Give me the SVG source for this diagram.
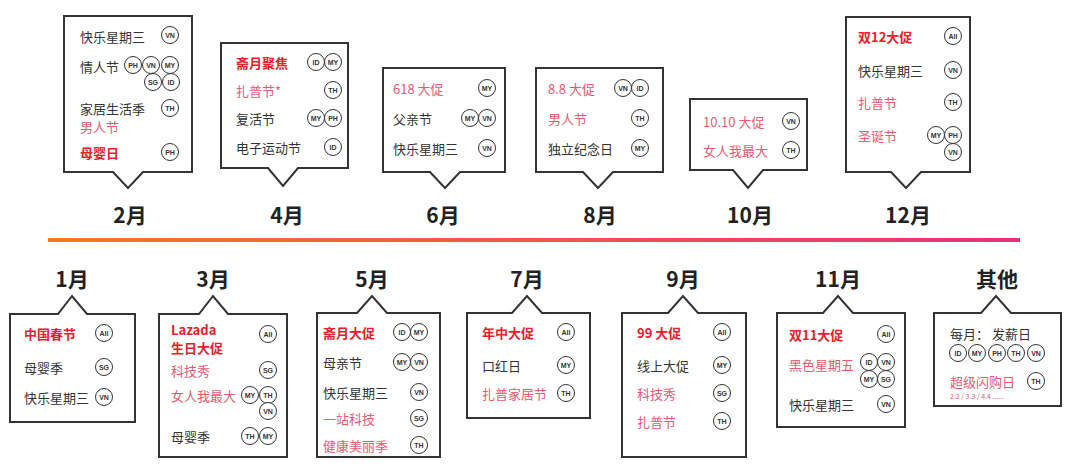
<svg xmlns="http://www.w3.org/2000/svg" width="1080" height="474" viewBox="0 0 1080 474">
<defs>
<linearGradient id="lg" x1="0" x2="1" y1="0" y2="0"><stop offset="0" stop-color="#f47a1f"/><stop offset="1" stop-color="#e8307a"/></linearGradient>
<style>
.b{fill:#fff;stroke:#333;stroke-width:2}
text{font-family:"Noto Sans CJK SC","Liberation Sans",sans-serif;dominant-baseline:central}
.t{font-size:13px;fill:#333}
.p{font-size:13px;fill:#e85a6e}
.r{font-size:13px;fill:#e8202a;font-weight:bold}
.m{font-size:21px;font-weight:bold;fill:#222;text-anchor:middle}
.c circle{fill:#fff;stroke:#333;stroke-width:1}
.c text{font-size:7px;font-weight:bold;fill:#333;text-anchor:middle;font-family:"Liberation Sans",sans-serif}
</style>
</defs>
<g id="connectors"><rect x="48" y="238" width="972" height="4" fill="url(#lg)"/></g>

<g id="feb">
<path class="b" d="M64 16H192V172H143L128 188L113 172H64Z"/>
<text class="t" x="80" y="36">快乐星期三</text>
<text class="t" x="80" y="66">情人节</text>
<text class="t" x="80" y="108">家居生活季</text>
<text class="p" x="80" y="126">男人节</text>
<text class="r" x="80" y="152">母婴日</text>
<g class="c">
<circle cx="170" cy="35" r="8.5"/><text x="170" y="35">VN</text>
<circle cx="133" cy="65" r="8.5"/><text x="133" y="65">PH</text>
<circle cx="151" cy="65" r="8.5"/><text x="151" y="65">VN</text>
<circle cx="170" cy="65" r="8.5"/><text x="170" y="65">MY</text>
<circle cx="153" cy="82" r="8.5"/><text x="153" y="82">SG</text>
<circle cx="171" cy="82" r="8.5"/><text x="171" y="82">ID</text>
<circle cx="170" cy="108" r="8.5"/><text x="170" y="108">TH</text>
<circle cx="170" cy="152" r="8.5"/><text x="170" y="152">PH</text>
</g>
<text class="m" x="130" y="214">2月</text>
</g>

<g id="apr">
<path class="b" d="M221 43H348V168H298L283 186L268 168H221Z"/>
<text class="r" x="236" y="62">斋月聚焦</text>
<text class="p" x="236" y="90">扎普节*</text>
<text class="t" x="236" y="118">复活节</text>
<text class="t" x="236" y="147">电子运动节</text>
<g class="c">
<circle cx="316" cy="62" r="8.5"/><text x="316" y="62">ID</text>
<circle cx="333" cy="62" r="8.5"/><text x="333" y="62">MY</text>
<circle cx="333" cy="90" r="8.5"/><text x="333" y="90">TH</text>
<circle cx="316" cy="118" r="8.5"/><text x="316" y="118">MY</text>
<circle cx="333" cy="118" r="8.5"/><text x="333" y="118">PH</text>
<circle cx="333" cy="147" r="8.5"/><text x="333" y="147">ID</text>
</g>
<text class="m" x="287" y="214">4月</text>
</g>

<g id="jun">
<path class="b" d="M383 68H505V172H460L445 188L430 172H383Z"/>
<text class="p" x="393" y="88">618 大促</text>
<text class="t" x="393" y="118">父亲节</text>
<text class="t" x="393" y="148">快乐星期三</text>
<g class="c">
<circle cx="487" cy="88" r="8.5"/><text x="487" y="88">MY</text>
<circle cx="470" cy="118" r="8.5"/><text x="470" y="118">MY</text>
<circle cx="487" cy="118" r="8.5"/><text x="487" y="118">VN</text>
<circle cx="487" cy="148" r="8.5"/><text x="487" y="148">VN</text>
</g>
<text class="m" x="443" y="214">6月</text>
</g>

<g id="aug">
<path class="b" d="M536 68H663V172H613L598 188L583 172H536Z"/>
<text class="p" x="548" y="88">8.8 大促</text>
<text class="p" x="548" y="118">男人节</text>
<text class="t" x="548" y="148">独立纪念日</text>
<g class="c">
<circle cx="623" cy="88" r="8.5"/><text x="623" y="88">VN</text>
<circle cx="640" cy="88" r="8.5"/><text x="640" y="88">ID</text>
<circle cx="640" cy="118" r="8.5"/><text x="640" y="118">TH</text>
<circle cx="640" cy="148" r="8.5"/><text x="640" y="148">MY</text>
</g>
<text class="m" x="600" y="214">8月</text>
</g>

<g id="oct">
<path class="b" d="M690 99H807V170H763L748 188L733 170H690Z"/>
<text class="p" x="703" y="121">10.10 大促</text>
<text class="p" x="703" y="150">女人我最大</text>
<g class="c">
<circle cx="791" cy="121" r="8.5"/><text x="791" y="121">VN</text>
<circle cx="791" cy="150" r="8.5"/><text x="791" y="150">TH</text>
</g>
<text class="m" x="750" y="214">10月</text>
</g>

<g id="dec">
<path class="b" d="M846 17H970V172H921L906 188L891 172H846Z"/>
<text class="r" x="858" y="36">双12大促</text>
<text class="t" x="858" y="70">快乐星期三</text>
<text class="p" x="858" y="102">扎普节</text>
<text class="p" x="858" y="135">圣诞节</text>
<g class="c">
<circle cx="953" cy="36" r="8.5"/><text x="953" y="36">All</text>
<circle cx="953" cy="70" r="8.5"/><text x="953" y="70">VN</text>
<circle cx="953" cy="102" r="8.5"/><text x="953" y="102">TH</text>
<circle cx="936" cy="135" r="8.5"/><text x="936" y="135">MY</text>
<circle cx="953" cy="135" r="8.5"/><text x="953" y="135">PH</text>
<circle cx="953" cy="152" r="8.5"/><text x="953" y="152">VN</text>
</g>
<text class="m" x="908" y="214">12月</text>
</g>

<g id="jan">
<text class="m" x="72" y="278">1月</text>
<path class="b" d="M10 314H58L72 296L87 314H135V422H10Z"/>
<text class="r" x="24" y="333">中国春节</text>
<text class="t" x="24" y="367">母婴季</text>
<text class="t" x="24" y="397">快乐星期三</text>
<g class="c">
<circle cx="104" cy="333" r="8.5"/><text x="104" y="333">All</text>
<circle cx="104" cy="367" r="8.5"/><text x="104" y="367">SG</text>
<circle cx="104" cy="397" r="8.5"/><text x="104" y="397">VN</text>
</g>
</g>

<g id="mar">
<text class="m" x="213" y="278">3月</text>
<path class="b" d="M159 314H199L213 296L228 314H287V457H159Z"/>
<text class="r" x="171" y="329">Lazada</text>
<text class="r" x="171" y="347">生日大促</text>
<text class="p" x="171" y="370">科技秀</text>
<text class="p" x="171" y="395">女人我最大</text>
<text class="t" x="171" y="436">母婴季</text>
<g class="c">
<circle cx="268" cy="334" r="8.5"/><text x="268" y="334">All</text>
<circle cx="268" cy="370" r="8.5"/><text x="268" y="370">SG</text>
<circle cx="250" cy="395" r="8.5"/><text x="250" y="395">MY</text>
<circle cx="268" cy="395" r="8.5"/><text x="268" y="395">TH</text>
<circle cx="268" cy="411" r="8.5"/><text x="268" y="411">VN</text>
<circle cx="250" cy="436" r="8.5"/><text x="250" y="436">TH</text>
<circle cx="268" cy="436" r="8.5"/><text x="268" y="436">MY</text>
</g>
</g>

<g id="may">
<text class="m" x="372" y="278">5月</text>
<path class="b" d="M317 313H357L372 296L387 313H440V457H317Z"/>
<text class="r" x="323" y="332">斋月大促</text>
<text class="t" x="323" y="362">母亲节</text>
<text class="t" x="323" y="392">快乐星期三</text>
<text class="p" x="323" y="418">一站科技</text>
<text class="p" x="323" y="445">健康美丽季</text>
<g class="c">
<circle cx="402" cy="332" r="8.5"/><text x="402" y="332">ID</text>
<circle cx="419" cy="332" r="8.5"/><text x="419" y="332">MY</text>
<circle cx="402" cy="362" r="8.5"/><text x="402" y="362">MY</text>
<circle cx="419" cy="362" r="8.5"/><text x="419" y="362">VN</text>
<circle cx="419" cy="392" r="8.5"/><text x="419" y="392">VN</text>
<circle cx="419" cy="418" r="8.5"/><text x="419" y="418">SG</text>
<circle cx="419" cy="445" r="8.5"/><text x="419" y="445">TH</text>
</g>
</g>

<g id="jul">
<text class="m" x="527" y="278">7月</text>
<path class="b" d="M467 313H512L527 296L542 313H590V418H467Z"/>
<text class="r" x="482" y="332">年中大促</text>
<text class="t" x="482" y="365">口红日</text>
<text class="p" x="482" y="393">扎普家居节</text>
<g class="c">
<circle cx="566" cy="332" r="8.5"/><text x="566" y="332">All</text>
<circle cx="566" cy="365" r="8.5"/><text x="566" y="365">MY</text>
<circle cx="566" cy="393" r="8.5"/><text x="566" y="393">TH</text>
</g>
</g>

<g id="sep">
<text class="m" x="683" y="278">9月</text>
<path class="b" d="M622 313H668L683 296L698 313H746V457H622Z"/>
<text class="r" x="637" y="332">99 大促</text>
<text class="t" x="637" y="365">线上大促</text>
<text class="p" x="637" y="393">科技秀</text>
<text class="p" x="637" y="421">扎普节</text>
<g class="c">
<circle cx="722" cy="332" r="8.5"/><text x="722" y="332">All</text>
<circle cx="722" cy="365" r="8.5"/><text x="722" y="365">MY</text>
<circle cx="722" cy="393" r="8.5"/><text x="722" y="393">SG</text>
<circle cx="722" cy="421" r="8.5"/><text x="722" y="421">TH</text>
</g>
</g>

<g id="nov">
<text class="m" x="838" y="278">11月</text>
<path class="b" d="M777 313H823L838 296L853 313H905V427H777Z"/>
<text class="r" x="789" y="334">双11大促</text>
<text class="p" x="789" y="364">黑色星期五</text>
<text class="t" x="789" y="404">快乐星期三</text>
<g class="c">
<circle cx="886" cy="334" r="8.5"/><text x="886" y="334">All</text>
<circle cx="869" cy="362" r="8.5"/><text x="869" y="362">ID</text>
<circle cx="886" cy="362" r="8.5"/><text x="886" y="362">VN</text>
<circle cx="869" cy="379" r="8.5"/><text x="869" y="379">MY</text>
<circle cx="886" cy="379" r="8.5"/><text x="886" y="379">SG</text>
<circle cx="886" cy="404" r="8.5"/><text x="886" y="404">VN</text>
</g>
</g>

<g id="other">
<text class="m" x="997" y="278">其他</text>
<path class="b" d="M934 313H981L996 296L1011 313H1061V406H934Z"/>
<text class="t" x="950" y="333">每月： 发薪日</text>
<text class="p" x="950" y="381">超级闪购日</text>
<text x="950" y="396" style="font-size:7px;fill:#e85a6e">2.2 / 3.3 / 4.4 ......</text>
<g class="c">
<circle cx="958" cy="353" r="8.5"/><text x="958" y="353">ID</text>
<circle cx="977" cy="353" r="8.5"/><text x="977" y="353">MY</text>
<circle cx="997" cy="353" r="8.5"/><text x="997" y="353">PH</text>
<circle cx="1016" cy="353" r="8.5"/><text x="1016" y="353">TH</text>
<circle cx="1036" cy="353" r="8.5"/><text x="1036" y="353">VN</text>
<circle cx="1036" cy="381" r="8.5"/><text x="1036" y="381">TH</text>
</g>
</g>
</svg>
